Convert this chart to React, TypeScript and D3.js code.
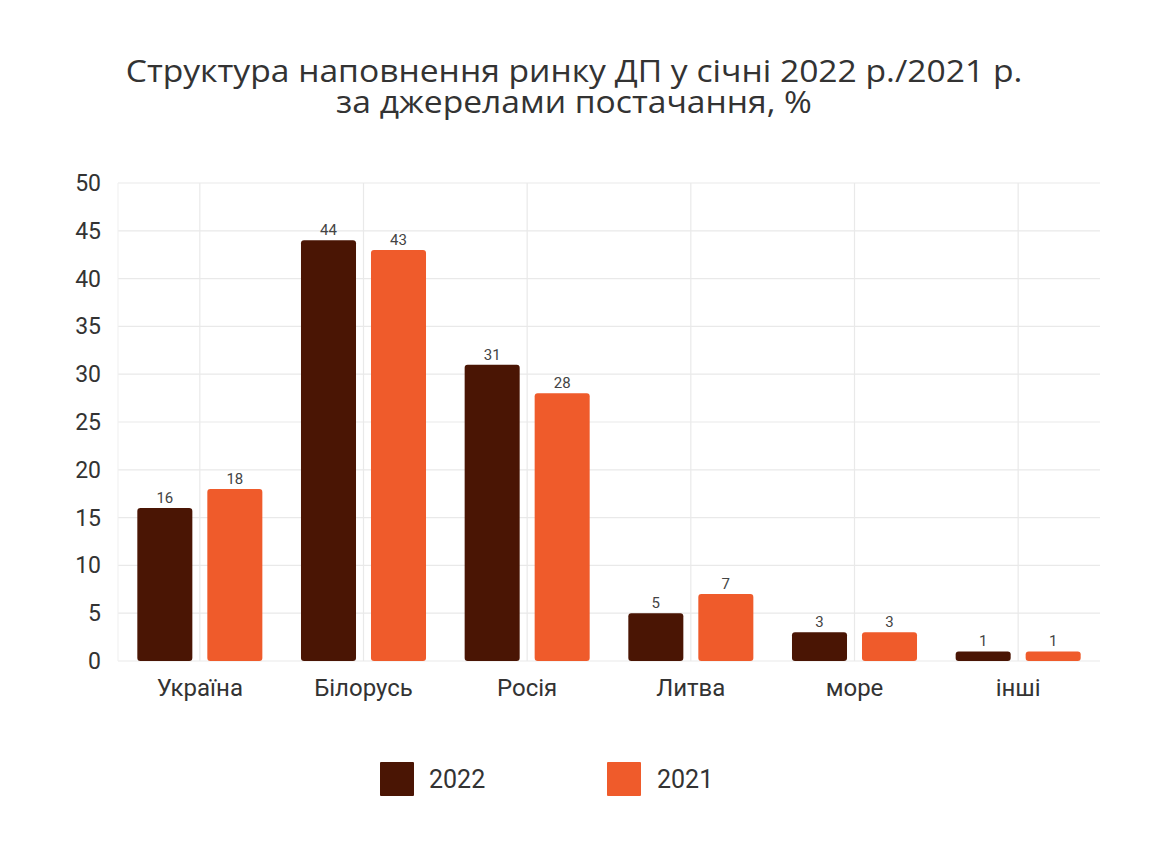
import * as d3 from "d3";
import { useEffect, useRef } from "react";

const categories = ["Україна", "Білорусь", "Росія", "Литва", "море", "інші"];
const values2022 = [16, 44, 31, 5, 3, 1];
const values2021 = [18, 43, 28, 7, 3, 1];
const seriesNames = ["2022", "2021"];
const yTicks = [0, 5, 10, 15, 20, 25, 30, 35, 40, 45, 50];
const titleLines = [
  "Структура наповнення ринку ДП у січні 2022 р./2021 р.",
  "за джерелами постачання, %",
];

const colors = ["#4a1504", "#ef5b2b"];

function App() {
  const ref = useRef<SVGSVGElement | null>(null);

  useEffect(() => {
    const width = 1140;
    const height = 838;
    const svg = d3
      .select(ref.current)
      .attr("width", width)
      .attr("height", height)
      .style("display", "block");
    svg.selectAll("*").remove();

    // offset for body margin
    const g = svg.append("g").attr("transform", "translate(-8,-8)");

    const left = 118;
    const right = 1100;
    const top = 183;
    const bottom = 661;

    const x = d3.scaleBand().domain(categories).range([left, right]);
    const y = d3.scaleLinear().domain([0, 50]).range([bottom, top]);

    // title (slightly stretched like the source image)
    g.append("g")
      .attr("transform", "translate(574,0) scale(1.085,1)")
      .selectAll("text")
      .data(titleLines)
      .join("text")
      .attr("x", 0)
      .attr("y", (_, i) => 82 + i * 31)
      .attr("text-anchor", "middle")
      .attr("font-family", "'Open Sans', sans-serif")
      .attr("font-size", 31)
      .attr("fill", "#333")
      .text((d) => d);

    // grid
    g.append("g")
      .selectAll("line")
      .data(yTicks)
      .join("line")
      .attr("x1", left)
      .attr("x2", right)
      .attr("y1", (d) => y(d))
      .attr("y2", (d) => y(d))
      .attr("stroke", "#e9e9e9")
      .attr("stroke-width", 1.2);

    g.append("g")
      .selectAll("line")
      .data(categories)
      .join("line")
      .attr("x1", (d) => x(d)! + x.bandwidth() / 2)
      .attr("x2", (d) => x(d)! + x.bandwidth() / 2)
      .attr("y1", top)
      .attr("y2", bottom)
      .attr("stroke", "#e9e9e9")
      .attr("stroke-width", 1.2);

    g.append("line")
      .attr("x1", left)
      .attr("x2", left)
      .attr("y1", top)
      .attr("y2", bottom)
      .attr("stroke", "#efefef");

    // y axis labels
    g.append("g")
      .selectAll("text")
      .data(yTicks)
      .join("text")
      .attr("x", 101)
      .attr("y", (d) => y(d) + 8)
      .attr("text-anchor", "end")
      .attr("font-family", "Roboto, sans-serif")
      .attr("font-size", 23)
      .attr("fill", "#333")
      .text((d) => d);

    // bars
    const sub = d3
      .scaleBand()
      .domain(seriesNames)
      .range([0, x.bandwidth()])
      .paddingInner(0.214)
      .paddingOuter(0.276);

    const series = [values2022, values2021];
    series.forEach((vals, si) => {
      const name = seriesNames[si];
      const grp = g.append("g");
      grp
        .selectAll("rect")
        .data(vals)
        .join("rect")
        .attr("x", (_, i) => x(categories[i])! + sub(name)!)
        .attr("y", (d) => y(d))
        .attr("width", sub.bandwidth())
        .attr("height", (d) => bottom - y(d))
        .attr("rx", 3)
        .attr("fill", colors[si]);
      grp
        .selectAll("text")
        .data(vals)
        .join("text")
        .attr("x", (_, i) => x(categories[i])! + sub(name)! + sub.bandwidth() / 2)
        .attr("y", (d) => y(d) - 5)
        .attr("text-anchor", "middle")
        .attr("font-family", "Roboto, sans-serif")
        .attr("font-size", 15)
        .attr("fill", "#444")
        .text((d) => d);
    });

    // category labels
    g.append("g")
      .selectAll("text")
      .data(categories)
      .join("text")
      .attr("x", (d) => x(d)! + x.bandwidth() / 2)
      .attr("y", 696)
      .attr("text-anchor", "middle")
      .attr("font-family", "Roboto, sans-serif")
      .attr("font-size", 24)
      .attr("fill", "#333")
      .text((d) => d);

    // legend
    const legendX = [380, 607];
    const legend = g
      .append("g")
      .selectAll("g")
      .data(seriesNames)
      .join("g")
      .attr("transform", (_, i) => `translate(${legendX[i]},762)`);
    legend
      .append("rect")
      .attr("width", 34)
      .attr("height", 34)
      .attr("rx", 1)
      .attr("fill", (_, i) => colors[i]);
    legend
      .append("text")
      .attr("x", (_, i) => (i === 0 ? 49 : 50))
      .attr("y", 26)
      .attr("font-family", "Roboto, sans-serif")
      .attr("font-size", 25)
      .attr("fill", "#333")
      .text((d) => d);
  }, []);

  return <svg ref={ref}></svg>;
}

export default App;
